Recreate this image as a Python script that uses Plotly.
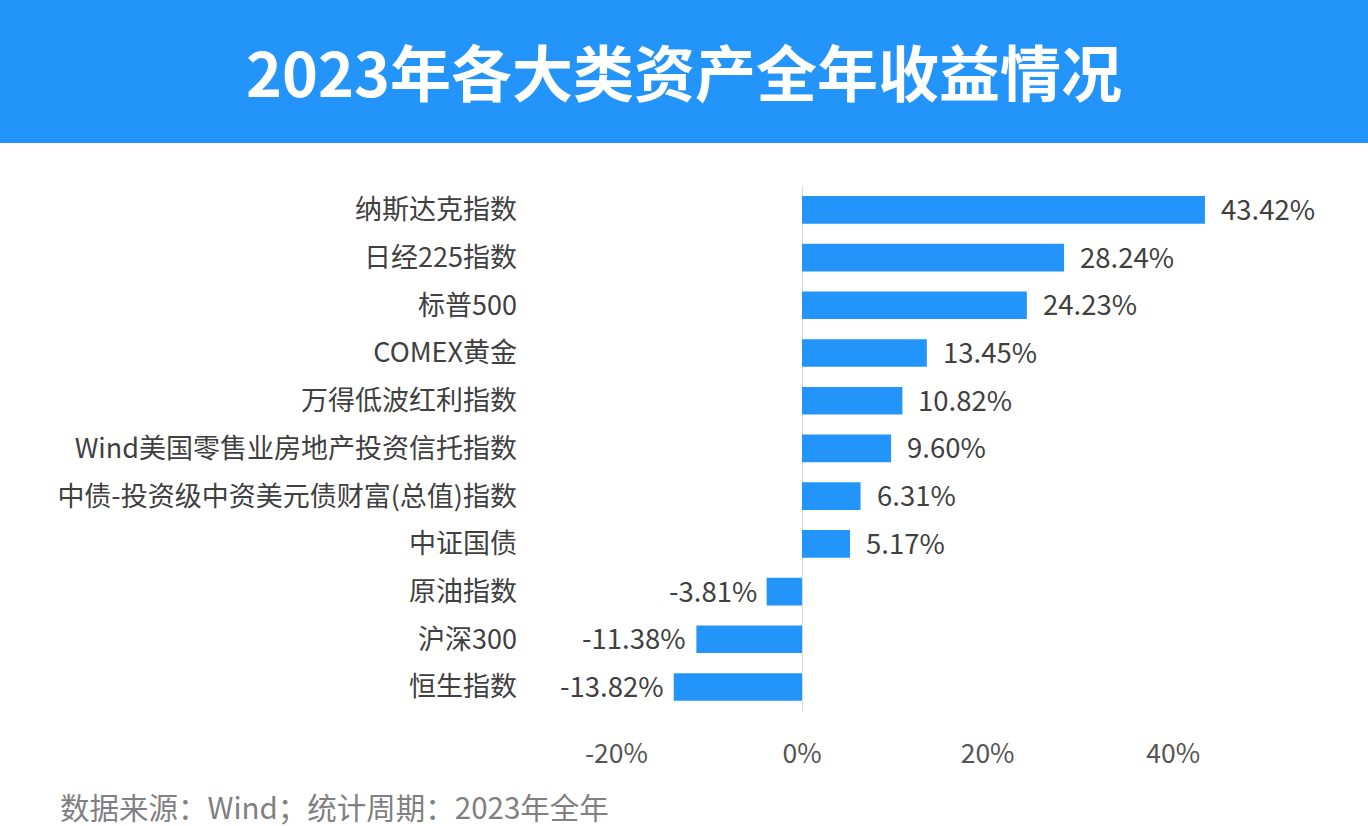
import plotly.graph_objects as go

categories = ["纳斯达克指数", "日经225指数", "标普500", "COMEX黄金", "万得低波红利指数",
              "Wind美国零售业房地产投资信托指数", "中债-投资级中资美元债财富(总值)指数",
              "中证国债", "原油指数", "沪深300", "恒生指数"]
returns = [43.42, 28.24, 24.23, 13.45, 10.82, 9.60, 6.31, 5.17, -3.81, -11.38, -13.82]
tick_vals = [-20, 0, 20, 40]
tick_text = ["-20%", "0%", "20%", "40%"]
title_text = "2023年各大类资产全年收益情况"
source_text = "数据来源：Wind；统计周期：2023年全年"

W, H = 1368, 826
L, R, T, B = 530, 1270, 186, 711  # plot area in pixels
zero_px = 802
scale = 9.28  # px per percent
xr = [(L - zero_px) / scale, (R - zero_px) / scale]

BLUE = "#2394FA"
FONT = "Noto Sans CJK SC"

def xp(px):
    return (px - L) / (R - L)

def yp(py):
    return (B - py) / (B - T)

fig = go.Figure(go.Bar(
    x=returns, y=categories, orientation="h",
    marker=dict(color=BLUE, line=dict(width=0)),
    width=0.58,
    hoverinfo="skip",
))

annotations = []
for c, v in zip(categories, returns):
    annotations.append(dict(
        x=v, y=c, xref="x", yref="y", text=f"{v:.2f}%", showarrow=False,
        xanchor="left" if v >= 0 else "right",
        xshift=14 if v >= 0 else -8, yshift=2,
        font=dict(family=FONT, size=27.5, color="#404040"),
    ))

annotations.append(dict(
    x=xp(684), y=yp(71), xref="paper", yref="paper", text=f"<b>{title_text}</b>",
    showarrow=False, xanchor="center", yanchor="middle",
    font=dict(family=FONT, size=61, color="white"),
))
annotations.append(dict(
    x=xp(58), y=yp(806), xref="paper", yref="paper", text=source_text,
    showarrow=False, xanchor="left", yanchor="middle",
    font=dict(family=FONT, size=29.5, color="#808080"),
))

shapes = [dict(
    type="rect", xref="paper", yref="paper",
    x0=xp(-5), x1=xp(W + 5), y0=yp(143), y1=yp(-5),
    fillcolor=BLUE, line=dict(width=0), layer="below",
)]

fig.update_layout(
    width=W, height=H,
    margin=dict(l=L, r=W - R, t=T, b=H - B, pad=0),
    paper_bgcolor="white", plot_bgcolor="white",
    showlegend=False,
    annotations=annotations,
    shapes=shapes,
    font=dict(family=FONT),
    xaxis=dict(
        range=xr, tickvals=tick_vals, ticktext=tick_text,
        showgrid=False, zeroline=True, zerolinecolor="#DADADA", zerolinewidth=1,
        showline=False, ticks="", ticklabelstandoff=24,
        tickfont=dict(family=FONT, size=26.5, color="#555555"),
        fixedrange=True,
    ),
    yaxis=dict(
        autorange="reversed", showgrid=False, zeroline=False, showline=False,
        ticks="", ticklabelstandoff=12,
        tickfont=dict(family=FONT, size=27, color="#404040"),
        fixedrange=True,
    ),
)

fig.write_html(
    "out.html",
    config={"displayModeBar": False},
    post_script="document.body.style.margin='0';document.body.style.padding='0';",
)
